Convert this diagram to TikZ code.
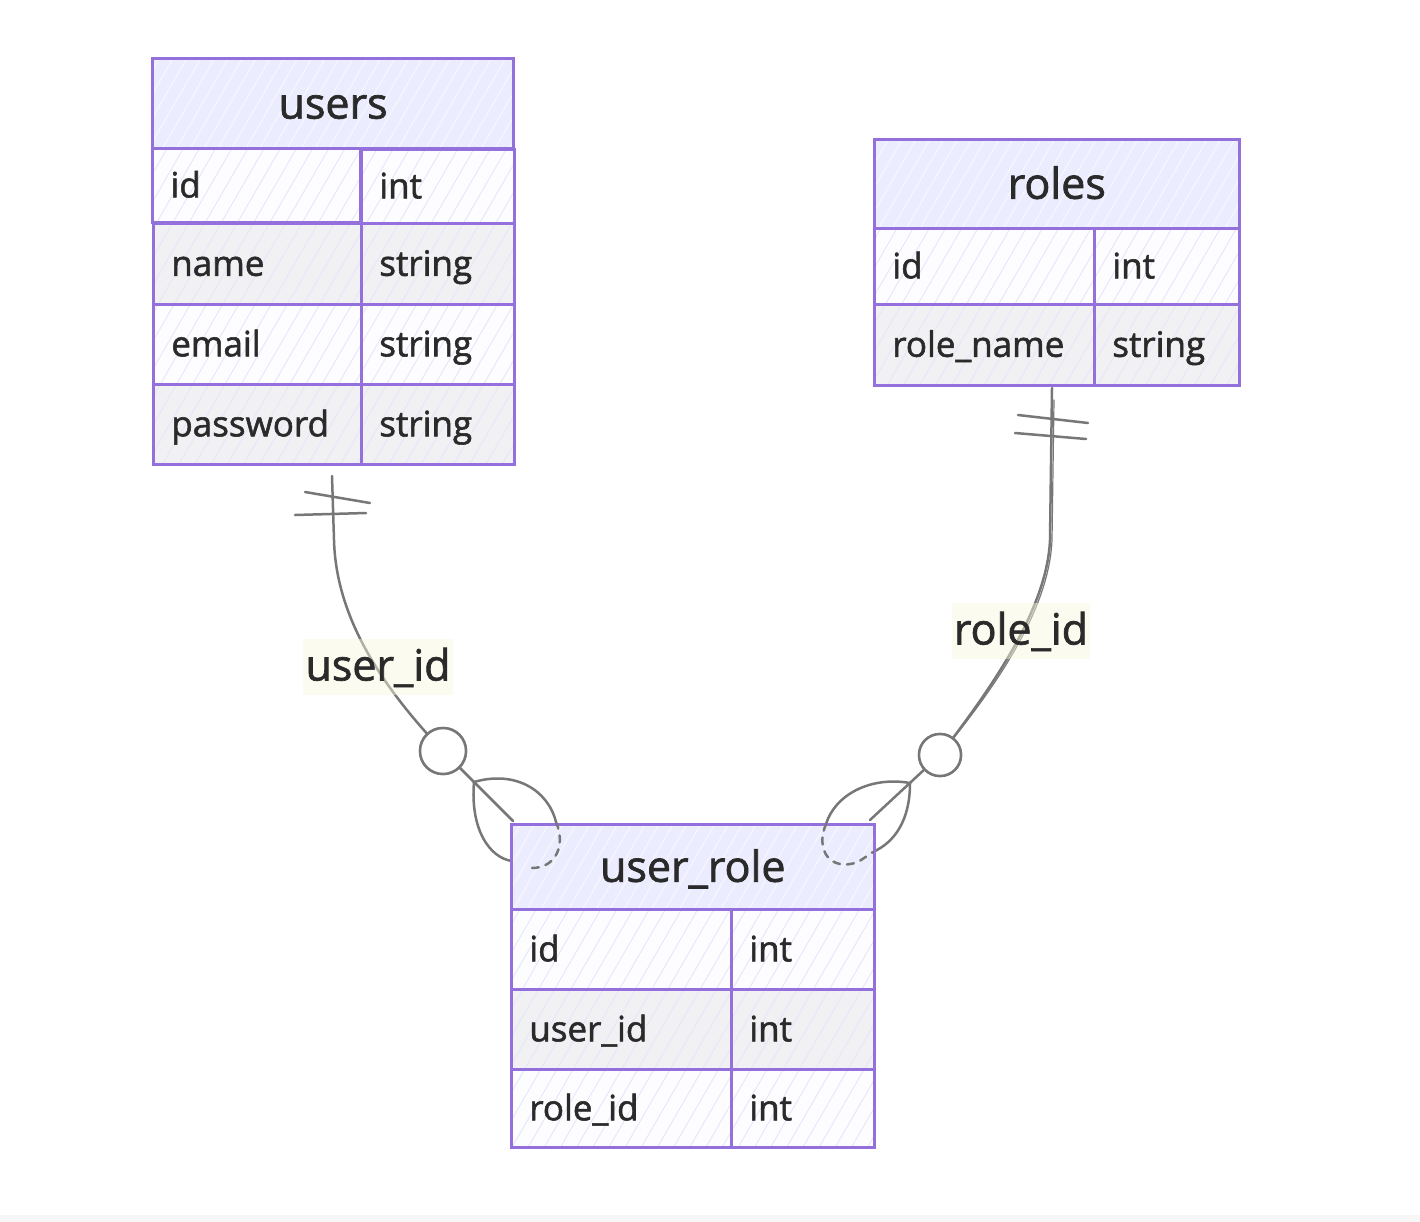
\documentclass[tikz,border=0pt]{standalone}
\usepackage{fontspec}
\setmainfont{Open Sans}[FakeBold=1.6]
\usetikzlibrary{patterns.meta}
\definecolor{erline}{HTML}{9370DB}
\definecolor{hdrfill}{HTML}{ECECFF}
\definecolor{oddfill}{HTML}{FDFDFF}
\definecolor{evenfill}{HTML}{F1F1F3}
\definecolor{hatch}{HTML}{E6E6FA}
\definecolor{hatchhdr}{HTML}{F6F6FF}
\definecolor{txt}{HTML}{2A2A2A}
\definecolor{conn}{HTML}{777777}
\definecolor{lblfill}{HTML}{F8F8DC}
\pgfdeclarelayer{background}
\pgfsetlayers{background,main}
\begin{document}
\begin{tikzpicture}[x=1pt,y=-1pt,
  cellbase/.style={draw=erline, line width=2.6pt, anchor=north west, inner ysep=0pt,
    text=txt, text height=25pt, text depth=1pt},
  hdr/.style={cellbase, preaction={fill=hdrfill},
    pattern={Lines[angle=60,distance=12pt,line width=1.2pt]}, pattern color=hatchhdr,
    inner xsep=0pt, align=center, font=\fontsize{43}{50}\selectfont,
    text height=31pt, text depth=1pt},
  rowodd/.style={cellbase, preaction={fill=oddfill},
    pattern={Lines[angle=60,distance=14pt,line width=0.9pt]}, pattern color=hatch,
    inner xsep=18pt, align=left, font=\fontsize{35}{42}\selectfont},
  roweven/.style={rowodd, preaction={fill=evenfill}},
  conline/.style={draw=conn, line width=2.5pt, line cap=round},
  condash/.style={conline, dash pattern=on 7pt off 7pt},
  optcircle/.style={circle, draw=conn, line width=2.5pt, fill=white, minimum size=#1, inner sep=0pt},
  lbl/.style={fill=lblfill, fill opacity=0.45, text opacity=1, text=txt, inner xsep=2pt, inner ysep=0pt,
    text height=28pt, text depth=1pt, minimum height=56pt,
    font=\fontsize{43}{50}\selectfont}
]
\useasboundingbox (0,0) rectangle (1420,1222);

% ---------- users ----------
\node[hdr, minimum width=361pt, minimum height=90pt, text width=361pt] (users) at (152,58) {users};
\node[rowodd, minimum height=74pt, text width=172pt] (u-id) at (152,148) {id};
\node[rowodd, minimum height=74pt, text width=117pt] (u-idt) at (360,148) {int};
\node[roweven, minimum height=81pt, text width=172pt] (u-name) at (152,222) {name};
\node[roweven, minimum height=81pt, text width=117pt] (u-namet) at (360,222) {string};
\node[rowodd, minimum height=80pt, text width=172pt] (u-email) at (152,303) {email};
\node[rowodd, minimum height=80pt, text width=117pt] (u-emailt) at (360,303) {string};
\node[roweven, minimum height=80pt, text width=172pt] (u-pw) at (152,383) {password};
\node[roweven, minimum height=80pt, text width=117pt] (u-pwt) at (360,383) {string};

% ---------- roles ----------
\node[hdr, minimum width=365pt, minimum height=89pt, text width=365pt] (roles) at (873,138) {roles};
\node[rowodd, minimum height=76pt, text width=184pt] (r-id) at (873,227) {id};
\node[rowodd, minimum height=76pt, text width=109pt] (r-idt) at (1093,227) {int};
\node[roweven, minimum height=81pt, text width=184pt] (r-name) at (873,303) {role\_name};
\node[roweven, minimum height=81pt, text width=109pt] (r-namet) at (1093,303) {string};

% ---------- user_role ----------
\node[hdr, minimum width=363pt, minimum height=85pt, text width=363pt] (ur) at (510,823) {user\_role};
\node[rowodd, minimum height=80pt, text width=184pt] (ur-id) at (510,908) {id};
\node[rowodd, minimum height=80pt, text width=107pt] (ur-idt) at (730,908) {int};
\node[roweven, minimum height=80pt, text width=184pt] (ur-uid) at (510,988) {user\_id};
\node[roweven, minimum height=80pt, text width=107pt] (ur-uidt) at (730,988) {int};
\node[rowodd, minimum height=78pt, text width=184pt] (ur-rid) at (510,1068) {role\_id};
\node[rowodd, minimum height=78pt, text width=107pt] (ur-ridt) at (730,1068) {int};

% ---------- connector users -> user_role ----------
\coordinate (l0) at (332,476);
\coordinate (l1) at (334,540);
\coordinate (l2) at (513,821);
\coordinate (lp) at (474,782);
\coordinate (lq) at (556,822);
\coordinate (lr) at (512,861);
\coordinate (le) at (532,868);
\coordinate (lb1a) at (305,492);
\coordinate (lb1b) at (370,503);
\coordinate (lb2a) at (295,515);
\coordinate (lb2b) at (366,513);
\node[optcircle=46pt] (c1) at (443,751) {};

% ---------- connector roles -> user_role ----------
\coordinate (r0) at (1052,388);
\coordinate (r1) at (1050,540);
\coordinate (r2) at (870,820);
\coordinate (rp) at (910,783);
\coordinate (rq) at (826,824);
\coordinate (rr) at (873,852);
\coordinate (re) at (858,862);
\coordinate (rb1a) at (1018,415);
\coordinate (rb1b) at (1088,423);
\coordinate (rb2a) at (1015,433);
\coordinate (rb2b) at (1086,439);
\node[optcircle=42pt] (c2) at (940,755) {};

\begin{pgfonlayer}{background}
  \fill[white] (0,0) rectangle (1420,1222);
  \fill[black!3] (0,1215) rectangle (1420,1222);
  % left
  \draw[conline] (l0) -- (l1) .. controls (336,620) and (385,690) .. (c1.center) -- (l2);
  \draw[conline] (lb1a) -- (lb1b);
  \draw[conline] (lb2a) -- (lb2b);
  \draw[conline] (lp) .. controls (515,770) and (548,790) .. (lq);
  \draw[conline] (lp) .. controls (470,830) and (490,858) .. (lr) -- (le);
  % right
  \draw[conline] (r0) -- (r1) .. controls (1047,610) and (990,690) .. (c2.center) -- (r2);
  \draw[conline, line width=1.2pt] (1054,400) -- (1052,540) .. controls (1049,612) and (993,690) .. (c2.center);
  \draw[conline] (rb1a) -- (rb1b);
  \draw[conline] (rb2a) -- (rb2b);
  \draw[conline] (rp) .. controls (870,776) and (835,795) .. (rq);
  \draw[conline] (rp) .. controls (910,820) and (895,842) .. (rr);
\end{pgfonlayer}

% redraw circles on top of lines
\node[optcircle=46pt] at (c1) {};
\node[optcircle=42pt] at (c2) {};

% dashed parts of crow's feet inside user_role header
\draw[condash] (lq) .. controls (566,845) and (556,868) .. (le);
\draw[condash] (rq) .. controls (815,850) and (830,872) .. (re) -- (rr);

% labels
\node[lbl] (lab1) at (378,667) {user\_id};
\node[lbl] (lab2) at (1021,631) {role\_id};
\end{tikzpicture}
\end{document}
